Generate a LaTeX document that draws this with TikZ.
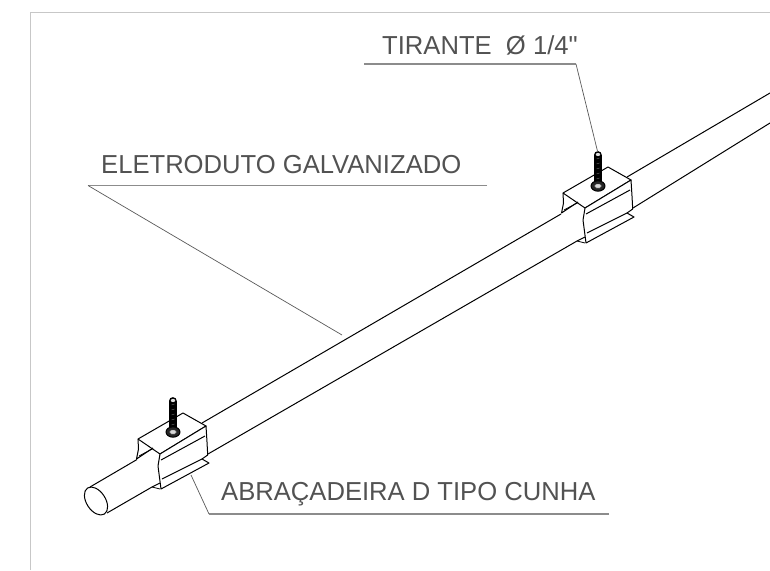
\documentclass[tikz,border=0pt]{standalone}
\usepackage{fontspec}
\setmainfont{Liberation Sans}[Ligatures=TeXOff,FakeStretch=0.985]
\begin{document}
\begin{tikzpicture}
  [x=1pt,y=-1pt,line join=round,
   every node/.style={anchor=base west,inner sep=0pt,text=black!68,font=\fontsize{26}{26}\selectfont},
   sheet/.style={draw=black,line width=1pt},
   thin sheet/.style={draw=black,line width=0.8pt},
   shelf/.style={draw=black!45,line width=1.2pt},
   leader/.style={draw=black!65,line width=0.7pt}]

  \useasboundingbox (0,0) rectangle (770,570);
  \draw [black!22,line width=1pt] (30,570) -- (30,12) -- (770,12);

  % conduit
  \draw [sheet] (96,501) ellipse [x radius=15.5pt,y radius=9.5pt,rotate=-57];
  \draw [sheet] (90,487) -- (137,459.5);
  \draw [sheet] (107,513) -- (152,487);
  \draw [sheet] (202,423) -- (561,214);
  \draw [sheet] (208,454) -- (577,241);
  \draw [sheet] (627,177) -- (770,93);
  \draw [sheet] (633,208) -- (770,123);

  % clamps with bolts
  \foreach \dx/\dy in {0/0,425/-246}
  {
    \begin{scope}[shift={(\dx,\dy)}]
      \filldraw [sheet,fill=white] (138,439) -- (183,413) -- (206,426) -- (160,454) -- cycle;
      \filldraw [sheet,fill=white] (160,454) -- (206,426) -- (207,442) -- (207.7,455) -- (202,459) -- (209,463) -- (161,489) -- (158,466) -- cycle;
      \draw [sheet] (138,439) -- (138.5,449) -- (136.5,459) -- (153,448);
      \draw [thin sheet] (139,456) -- (153,448.5);
      \draw [sheet] (152,487) -- (160,483);
      \draw [thin sheet] (152,487) -- (160,489);
      \draw [sheet] (161,460) -- (205,436);
      \draw [sheet] (162,479) -- (202,459);
      % bolt
      \fill [black] (169,401) arc [start angle=180,end angle=0,radius=3.9pt] -- (176.8,428) -- (169,428) -- cycle;
      \fill [black!12] (173,400.5) ellipse [x radius=2.2pt,y radius=1.6pt];
      \foreach \yy in {405,410,...,425}
        \draw [black!55,line width=0.4pt] (171.5,\yy) -- (174.5,\yy-1);
      \filldraw [sheet,fill=black!85] (173,432) ellipse [x radius=7pt,y radius=5.2pt];
      \filldraw [draw=black!70,line width=0.4pt,fill=black!15] (169.5,432) -- (171.2,430) -- (174.8,430) -- (176.5,432) -- (174.8,434) -- (171.2,434) -- cycle;
    \end{scope}
  }

  % labels
  \node (tirante) at (382,54) {TIRANTE\ \ Ø 1/4"};
  \node (eletroduto) at (101,173) {ELETRODUTO GALVANIZADO};
  \node (abracadeira) at (221,500) {ABRAÇADEIRA D TIPO CUNHA};

  \coordinate (tirante start) at (364,64);
  \coordinate (tirante knee) at (576,64);
  \coordinate (tirante end) at (597.7,152);
  \coordinate (eletroduto knee) at (88,185.5);
  \coordinate (eletroduto start) at (487,185.5);
  \coordinate (eletroduto end) at (342,335);
  \coordinate (abracadeira start) at (609,514);
  \coordinate (abracadeira knee) at (209,514);
  \coordinate (abracadeira end) at (191,475);

  \draw [shelf] (tirante start) -- (tirante knee);
  \draw [leader] (tirante knee) -- (tirante end);
  \draw [shelf] (eletroduto start) -- (eletroduto knee);
  \draw [leader] (eletroduto knee) -- (eletroduto end);
  \draw [shelf] (abracadeira start) -- (abracadeira knee);
  \draw [leader] (abracadeira knee) -- (abracadeira end);
\end{tikzpicture}
\end{document}
